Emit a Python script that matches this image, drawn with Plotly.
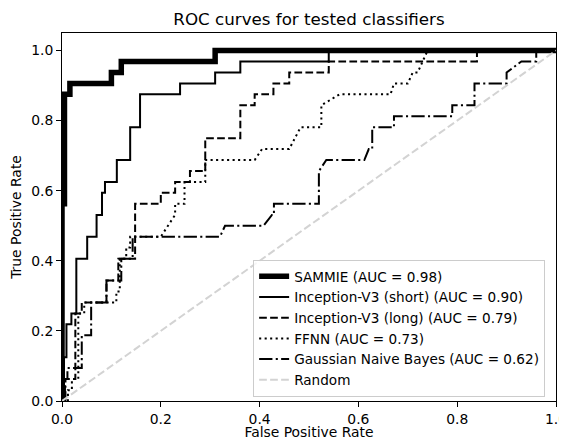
import plotly.graph_objects as go

# ---- data ----
sammie_fpr = [0, 0, 0.005, 0.005, 0.016, 0.016, 0.100, 0.100, 0.120, 0.120, 0.310, 0.310, 1.0]
sammie_tpr = [0, 0.5625, 0.5625, 0.875, 0.875, 0.906, 0.906, 0.9375, 0.9375, 0.969, 0.969, 1.0, 1.0]

short_fpr = [0, 0.004, 0.004, 0.009, 0.009, 0.019, 0.019, 0.029, 0.029, 0.051, 0.051, 0.070, 0.070,
             0.081, 0.081, 0.087, 0.087, 0.111, 0.111, 0.138, 0.138, 0.158, 0.158, 0.239, 0.239,
             0.310, 0.310, 0.361, 0.361, 0.540, 0.540, 1.0]
short_tpr = [0, 0, 0.125, 0.125, 0.219, 0.219, 0.25, 0.25, 0.406, 0.406, 0.469, 0.469, 0.531,
             0.531, 0.594, 0.594, 0.625, 0.625, 0.6875, 0.6875, 0.781, 0.781, 0.875, 0.875, 0.906,
             0.906, 0.9375, 0.9375, 0.969, 0.969, 1.0, 1.0]

long_fpr = [0, 0.006, 0.006, 0.027, 0.027, 0.040, 0.040, 0.090, 0.090, 0.114, 0.114, 0.148, 0.148,
            0.200, 0.200, 0.229, 0.229, 0.259, 0.259, 0.290, 0.290, 0.361, 0.361, 0.390, 0.390,
            0.428, 0.428, 0.460, 0.460, 0.540, 0.540, 0.840, 0.840, 1.0]
long_tpr = [0, 0, 0.0625, 0.0625, 0.25, 0.25, 0.281, 0.281, 0.344, 0.344, 0.406, 0.406, 0.5625,
            0.5625, 0.594, 0.594, 0.625, 0.625, 0.656, 0.656, 0.75, 0.75, 0.844, 0.844, 0.875,
            0.875, 0.906, 0.906, 0.9375, 0.9375, 0.969, 0.969, 1.0, 1.0]

ffnn_fpr = [0, 0.012, 0.012, 0.020, 0.020, 0.033, 0.033, 0.045, 0.045, 0.110, 0.110, 0.117, 0.117,
            0.130, 0.130, 0.138, 0.138, 0.200, 0.229, 0.229, 0.248, 0.248, 0.290, 0.290, 0.390,
            0.405, 0.460, 0.483, 0.525, 0.525, 0.562, 0.665, 0.672, 0.700, 0.710, 0.720, 0.740, 1.0]
ffnn_tpr = [0, 0, 0.031, 0.031, 0.0625, 0.0625, 0.25, 0.25, 0.281, 0.281, 0.3125, 0.3125, 0.406,
            0.406, 0.438, 0.438, 0.469, 0.469, 0.531, 0.5625, 0.5625, 0.625, 0.625, 0.6875, 0.6875,
            0.719, 0.719, 0.781, 0.781, 0.844, 0.875, 0.875, 0.906, 0.906, 0.9375, 0.9375, 1.0, 1.0]

gnb_fpr = [0, 0.007, 0.007, 0.011, 0.011, 0.040, 0.040, 0.059, 0.059, 0.090, 0.090, 0.120, 0.120,
           0.143, 0.143, 0.320, 0.330, 0.408, 0.425, 0.429, 0.429, 0.520, 0.520, 0.535, 0.612,
           0.621, 0.628, 0.628, 0.672, 0.672, 0.790, 0.790, 0.835, 0.835, 0.900, 0.900, 0.930,
           0.960, 0.960, 1.0]
gnb_tpr = [0, 0, 0.0625, 0.0625, 0.094, 0.094, 0.1875, 0.1875, 0.281, 0.281, 0.344, 0.344, 0.406,
           0.406, 0.469, 0.469, 0.5, 0.5, 0.531, 0.531, 0.5625, 0.5625, 0.656, 0.6875, 0.6875,
           0.719, 0.719, 0.781, 0.781, 0.8125, 0.8125, 0.844, 0.844, 0.906, 0.906, 0.9375, 0.969,
           0.969, 1.0, 1.0]

random_fpr = [0, 1]
random_tpr = [0, 1]

labels = ["SAMMIE (AUC = 0.98)", "Inception-V3 (short) (AUC = 0.90)",
          "Inception-V3 (long) (AUC = 0.79)", "FFNN (AUC = 0.73)",
          "Gaussian Naive Bayes (AUC = 0.62)", "Random"]

x_ticks = [0.0, 0.2, 0.4, 0.6, 0.8, 1.0]
y_ticks = [0.0, 0.2, 0.4, 0.6, 0.8, 1.0]

# ---- figure ----
FONT = "DejaVu Sans"
series = [
    (sammie_fpr, sammie_tpr, dict(color="black", width=5.5)),
    (short_fpr, short_tpr, dict(color="black", width=2)),
    (long_fpr, long_tpr, dict(color="black", width=2, dash="7.7px,3.3px")),
    (ffnn_fpr, ffnn_tpr, dict(color="black", width=2, dash="2.1px,3.4px")),
    (gnb_fpr, gnb_tpr, dict(color="black", width=2, dash="13.3px,3.3px,2.1px,3.3px")),
    (random_fpr, random_tpr, dict(color="#d3d3d3", width=2, dash="7.7px,3.3px")),
]

fig = go.Figure()
for (xs, ys, ln), name in zip(series, labels):
    fig.add_trace(go.Scatter(x=xs, y=ys, mode="lines", name=name, line=ln))

axis_common = dict(
    showgrid=False, zeroline=False, showline=True, mirror=True,
    linecolor="black", linewidth=1, ticks="outside", ticklen=5, tickwidth=1,
    tickcolor="black", tickfont=dict(family=FONT, size=13.9, color="black"),
    tickformat=".1f", automargin=False, ticklabeloverflow="allow",
)

# the page body adds an 8px offset, so the figure is 8px smaller than the window
fig.update_layout(
    width=559, height=432,
    margin=dict(l=54, r=11, t=25, b=39),
    paper_bgcolor="white", plot_bgcolor="white",
    font=dict(family=FONT, size=13.9, color="black"),
    title=dict(text="ROC curves for tested classifiers", x=0.5, xref="paper",
               y=1 - 11 / 432, yanchor="middle", yref="container",
               font=dict(family=FONT, size=16.7, color="black")),
    xaxis=dict(range=[0, 1], tickvals=x_ticks,
               title=dict(text="False Positive Rate", standoff=4,
                          font=dict(family=FONT, size=13.9, color="black")),
               **axis_common),
    yaxis=dict(range=[0, 1.05], tickvals=y_ticks,
               title=dict(text="True Positive Rate", standoff=9,
                          font=dict(family=FONT, size=13.9, color="black")),
               **axis_common),
    legend=dict(x=0.978, y=0.0108, xanchor="right", yanchor="bottom",
                bgcolor="rgba(255,255,255,0.8)", bordercolor="#cccccc", borderwidth=1,
                font=dict(family=FONT, size=13.6, color="black"),
                tracegroupgap=0, itemwidth=30),
    showlegend=True,
)

fig.write_html("out.html")
